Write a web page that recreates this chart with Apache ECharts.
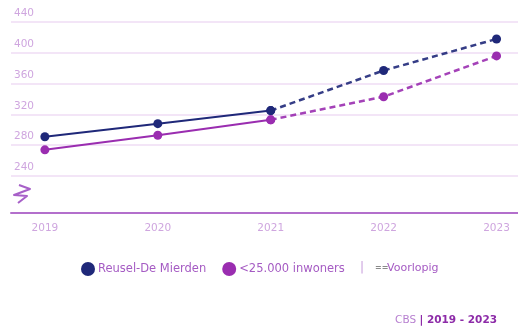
<!DOCTYPE html>
<html><head><meta charset="utf-8">
<script src="https://cdn.jsdelivr.net/npm/echarts@6/dist/echarts.min.js"></script>
<style>html,body{margin:0;padding:0;background:#fff}#c{width:518px;height:330px}</style>
</head><body><div id="c"></div>
<script>
const years = [2019, 2020, 2021, 2022, 2023];
const reusel = [291, 308, 325, 377, 418];
const small = [274, 293, 313, 343, 396];
const provisionalFrom = 2; // index from which values are provisional
const yTicks = [240, 280, 320, 360, 400, 440];
const seriesNames = ['Reusel-De Mierden', '<25.000 inwoners'];

const NAVY = '#1f2879';
const PURPLE = '#9a2db0';
const LABEL = '#cfa6df';
const FONT = '"DejaVu Sans", Verdana, sans-serif';

function pairs(vals, from, to) {
  const out = [];
  for (let i = 0; i < years.length; i++) {
    out.push(i >= from && i <= to ? [years[i], vals[i]] : [years[i], null]);
  }
  return out;
}
function mk(name, color, vals, dashed) {
  return {
    name, type: 'line', color,
    data: dashed ? pairs(vals, provisionalFrom, years.length - 1) : pairs(vals, 0, provisionalFrom),
    symbol: 'circle', symbolSize: 9, showSymbol: true,
    lineStyle: { color, width: dashed ? 2.5 : 2, type: dashed ? [6, 4] : 'solid', opacity: dashed ? 0.9 : 1 },
    itemStyle: { color },
    connectNulls: false, z: dashed ? 2 : 3
  };
}

const chart = echarts.init(document.getElementById('c'), null, { renderer: 'canvas' });
chart.setOption({
  animation: false,
  textStyle: { fontFamily: FONT },
  grid: { left: 11, right: 0, top: 22, bottom: 117, containLabel: false },
  xAxis: {
    type: 'value', min: 2018.7, max: 2023.19,
    axisLine: { show: true, lineStyle: { color: '#b36fcc', width: 2 } },
    axisTick: { show: false },
    splitLine: { show: false },
    axisLabel: { customValues: years, formatter: v => String(v), color: LABEL, fontSize: 10.5, margin: 10, fontFamily: FONT }
  },
  yAxis: {
    type: 'value', min: 192, max: 440,
    axisLine: { show: false },
    axisTick: { show: false, customValues: yTicks },
    splitLine: { show: true, lineStyle: { color: '#efdcf5', width: 1.5 } },
    axisLabel: {
      customValues: yTicks, inside: true, verticalAlign: 'bottom', align: 'left',
      color: LABEL, fontSize: 10.5, margin: 3, padding: [0, 0, 3, 0], fontFamily: FONT
    }
  },
  legend: {
    data: seriesNames.map((n, i) => ({ name: n, icon: 'circle', itemStyle: { color: i ? PURPLE : NAVY } })),
    left: 81, top: 262, padding: 0, itemWidth: 14, itemHeight: 14, itemGap: 16,
    textStyle: { color: '#a55bc3', fontSize: 11.5, fontFamily: FONT, padding: [0, 0, 0, -2] }
  },
  series: [
    mk(seriesNames[0], NAVY, reusel, false),
    mk(seriesNames[0], NAVY, reusel, true),
    mk(seriesNames[1], PURPLE, small, false),
    mk(seriesNames[1], PURPLE, small, true)
  ],
  graphic: [
    { type: 'text', left: 360, top: 262, style: { text: '|', fill: '#c9a0dc', font: '12px ' + FONT } },
    { type: 'text', left: 375, top: 264, style: { text: '==', fill: '#8a8a8a', font: 'bold 8px ' + FONT } },
    { type: 'text', left: 387, top: 263, style: { text: 'Voorlopig', fill: '#a55bc3', font: '11px ' + FONT } },
    { type: 'polyline', shape: { points: [[19, 185], [30, 189], [14, 195], [27, 196], [18, 203]] },
      style: { stroke: '#a760c8', lineWidth: 2, fill: null, lineJoin: 'round' } },
    { type: 'text', right: 21, top: 314, style: {
        text: '{a|CBS} {b|| 2019 - 2023}',
        rich: { a: { fill: '#b77fd0', font: '10.5px ' + FONT }, b: { fill: '#8d2ba8', font: 'bold 10.5px ' + FONT } } } }
  ]
});
</script></body></html>
